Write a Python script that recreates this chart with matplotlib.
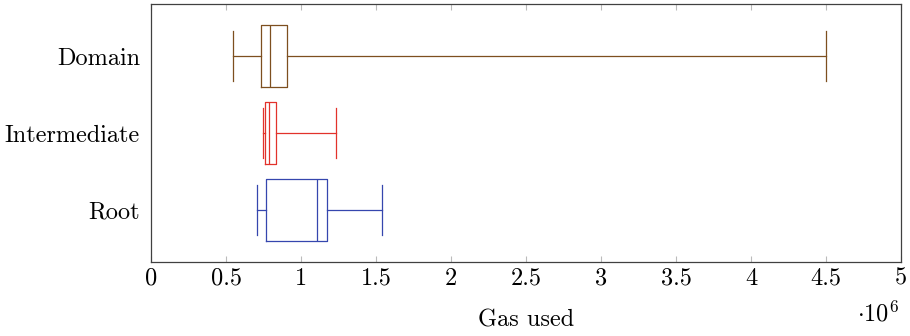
import matplotlib.pyplot as plt
import numpy as np

plt.rcParams['font.family'] = 'serif'
plt.rcParams['font.serif'] = ['cmr10']
plt.rcParams['mathtext.fontset'] = 'cm'
plt.rcParams['axes.formatter.use_mathtext'] = True

categories = ['Root', 'Intermediate', 'Domain']
colors = ['#3546ae', '#e2322b', '#7d4f1f']

# box stats, gas used (units of 1e6)
whislo = [0.704, 0.749, 0.545]
q1 = [0.769, 0.762, 0.731]
med = [1.104, 0.784, 0.793]
q3 = [1.171, 0.831, 0.904]
whishi = [1.538, 1.233, 4.5]

xticks = [0, 0.5, 1, 1.5, 2, 2.5, 3, 3.5, 4, 4.5, 5]

stats = []
for i, c in enumerate(categories):
    stats.append(dict(label=c, whislo=whislo[i] * 1e6, q1=q1[i] * 1e6, med=med[i] * 1e6,
                      q3=q3[i] * 1e6, whishi=whishi[i] * 1e6, fliers=[]))

fs = 17.5
fig = plt.figure(figsize=(9.1, 3.36), dpi=100)
ax = fig.add_axes([151 / 910, 1 - 262 / 336, 750 / 910, 258 / 336])

for i, s in enumerate(stats):
    col = colors[i]
    ax.bxp([s], positions=[i + 1], vert=False, widths=0.8, capwidths=0.64,
           showfliers=False,
           boxprops=dict(color=col, lw=0.9),
           medianprops=dict(color=col, lw=0.9),
           whiskerprops=dict(color=col, lw=0.9),
           capprops=dict(color=col, lw=0.9))

ax.set_ylim(0.325, 3.675)
ax.set_yticks([1, 2, 3])
ax.set_yticklabels(categories, fontsize=fs)
ax.tick_params(axis='y', length=0, pad=8)

ax.set_xlim(0, 5e6)
ax.set_xticks([t * 1e6 for t in xticks])
ax.set_xticklabels(['%g' % t for t in xticks], fontsize=fs)
ax.tick_params(axis='x', direction='in', length=4, color='#bbbbbb', top=True, pad=4)

for sp in ax.spines.values():
    sp.set_color('#404040')
    sp.set_linewidth(0.9)

ax.set_xlabel('Gas used', fontsize=fs, va='center')
ax.xaxis.set_label_coords(0.5, -0.225)
ax.text(0.997, -0.2, r'$\cdot 10^6$', transform=ax.transAxes, fontsize=fs,
        ha='right', va='center')

fig.savefig('out.png', dpi=100)
